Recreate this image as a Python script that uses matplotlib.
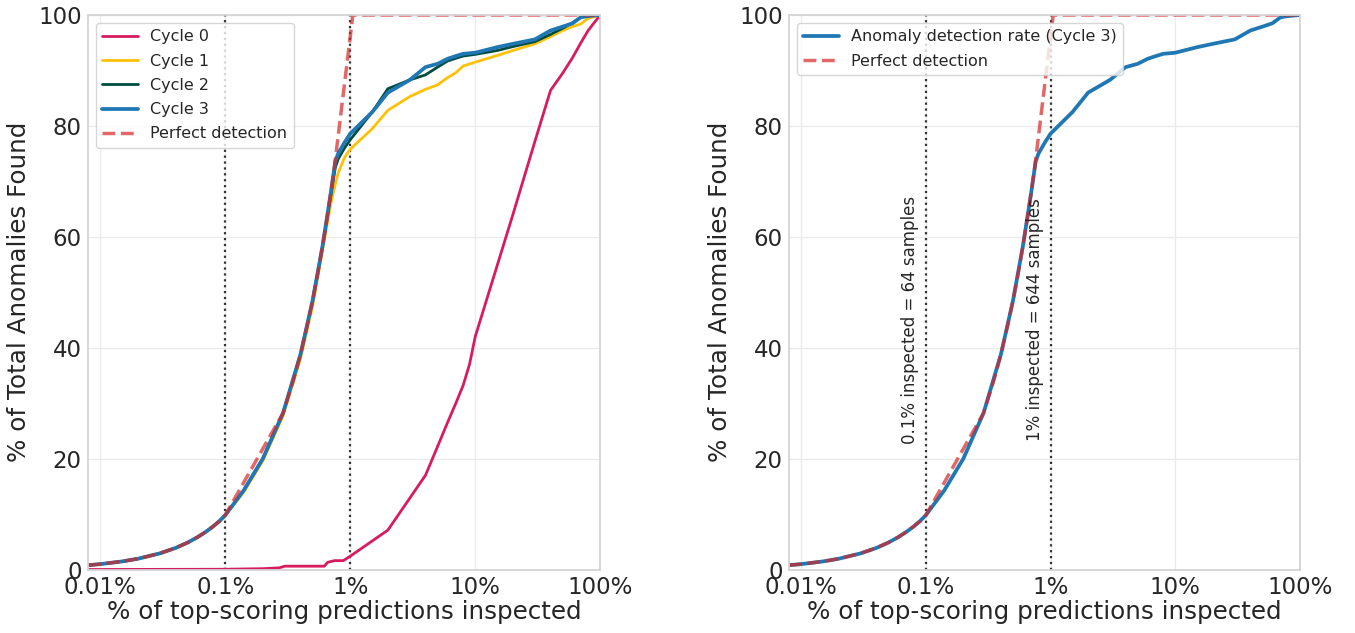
import matplotlib
matplotlib.use("Agg")
import matplotlib.pyplot as plt
import seaborn as sns
from matplotlib.ticker import FixedLocator, FuncFormatter

# ---------------- data (x in % of predictions inspected, y in % anomalies found)
x_cycles = [0.008, 0.01, 0.015, 0.02, 0.03, 0.04, 0.05, 0.06, 0.07, 0.08, 0.09,
            0.1, 0.14, 0.2, 0.29, 0.4, 0.5, 0.6, 0.7, 0.76, 0.8, 0.9, 1.0, 1.5,
            2, 3, 4, 5, 6, 7, 8, 10, 15, 20, 30, 40, 50, 60, 70, 80, 100]

cycle3 = [0.78, 0.97, 1.46, 1.94, 2.91, 3.88, 4.85, 5.83, 6.8, 7.77, 8.74,
          9.8, 14.2, 20.0, 28.2, 38.8, 48.5, 58.3, 68.0, 73.6, 75.0, 77.0, 78.6, 82.5,
          86.0, 88.3, 90.6, 91.2, 92.1, 92.6, 93.0, 93.2, 94.2, 94.8, 95.6, 97.2, 97.9, 98.5, 99.6, 99.8, 100]

cycle2 = [0.78, 0.97, 1.46, 1.94, 2.91, 3.88, 4.85, 5.83, 6.8, 7.77, 8.74,
          9.8, 14.2, 20.0, 28.2, 38.8, 48.5, 58.3, 67.5, 72.5, 74.0, 76.0, 77.5, 82.5,
          86.7, 88.3, 89.2, 90.6, 91.7, 92.2, 92.6, 92.9, 93.6, 94.3, 95.2, 96.5, 97.6, 98.6, 99.6, 99.9, 100]

cycle1 = [0.78, 0.97, 1.46, 1.94, 2.91, 3.88, 4.85, 5.83, 6.8, 7.77, 8.74,
          9.7, 13.9, 19.6, 27.7, 38.0, 47.5, 57.5, 66.0, 69.5, 71.5, 74.3, 75.8, 79.5,
          82.8, 85.3, 86.6, 87.4, 88.7, 89.6, 90.8, 91.5, 92.7, 93.6, 94.8, 96.1, 97.2, 97.9, 98.4, 99.4, 100]

x_cycle0 = [0.008, 0.1, 0.2, 0.27, 0.3, 0.62, 0.66, 0.75, 0.88, 1.0, 2.0, 4.0,
            5.0, 6.0, 7.0, 8.0, 9.0, 10, 20, 30, 40, 50, 60, 70, 80, 90, 100]
cycle0 = [0.0, 0.05, 0.15, 0.3, 0.6, 0.6, 1.3, 1.6, 1.6, 2.4, 7.1, 17.0,
          22.2, 26.5, 30.0, 33.2, 37.0, 42.0, 64.0, 77.2, 86.4, 89.5, 92.3, 95.0, 97.2, 98.7, 100]

x_perfect = [0.008, 0.01, 0.015, 0.02, 0.03, 0.04, 0.05, 0.06, 0.07, 0.08, 0.09,
             0.1, 0.29, 0.35, 0.4, 0.45, 0.5, 0.55, 0.6, 0.65, 0.74, 1.05, 100]
perfect = [0.78, 0.97, 1.46, 1.94, 2.91, 3.88, 4.85, 5.83, 6.8, 7.77, 8.74,
           9.8, 28.2, 34.0, 38.8, 43.7, 48.5, 53.4, 58.3, 63.1, 71.8, 100, 100]

x_ticks = [0.01, 0.1, 1, 10, 100]
x_tick_labels = ["0.01%", "0.1%", "1%", "10%", "100%"]
y_ticks = [0, 20, 40, 60, 80, 100]
marker_lines = [0.1, 1]
marker_texts = ["0.1% inspected = 64 samples", "1% inspected = 644 samples"]

cycle_names = ["Cycle 0", "Cycle 1", "Cycle 2", "Cycle 3"]
cycle_colors = ["#d81b60", "#ffc107", "#004d40", "#1f77b4"]

# ---------------- style
sns.set_style("whitegrid")
plt.rcParams["font.family"] = ["DejaVu Sans"]

fig = plt.figure(figsize=(13.55, 6.33), dpi=100)
ax1 = fig.add_axes([0.065, 0.1003, 0.378, 0.876])
ax2 = fig.add_axes([0.5823, 0.1003, 0.3771, 0.876])

def style_axis(ax):
    ax.set_xscale("log")
    ax.set_xlim(0.008, 100)
    ax.set_ylim(0, 100)
    ax.xaxis.set_major_locator(FixedLocator(x_ticks))
    ax.xaxis.set_major_formatter(FuncFormatter(lambda v, p: x_tick_labels[x_ticks.index(v)] if v in x_ticks else ""))
    ax.xaxis.set_minor_locator(FixedLocator([]))
    ax.set_yticks(y_ticks)
    ax.tick_params(axis="both", labelsize=16.5, colors=".15", pad=1)
    ax.set_xlabel("% of top-scoring predictions inspected", fontsize=17.7, color=".15", labelpad=1)
    ax.set_ylabel("% of Total Anomalies Found", fontsize=17.7, color=".15", labelpad=5)
    for s in ax.spines.values():
        s.set_color("#d4d4d4")
        s.set_linewidth(1.3)
    ax.grid(True, color="#ebebeb", linewidth=1.0)

# ---------------- left panel
cycle_x = [x_cycle0, x_cycles, x_cycles, x_cycles]
cycle_y = [cycle0, cycle1, cycle2, cycle3]
cycle_lw = [2.0, 2.0, 2.0, 2.7]
for xs, ys, name, c, lw in zip(cycle_x, cycle_y, cycle_names, cycle_colors, cycle_lw):
    ax1.plot(xs, ys, color=c, lw=lw, label=name)
ax1.plot(x_perfect, perfect, color="tab:red", alpha=0.7, ls="--", lw=2.5, label="Perfect detection")
for v in marker_lines:
    ax1.axvline(v, color="#333333", ls=":", lw=1.6, zorder=1)
style_axis(ax1)
ax1.legend(loc="upper left", fontsize=11.5, frameon=True, borderpad=0.4,
           handlelength=2.2, labelspacing=0.58)

# ---------------- right panel
ax2.plot(x_cycles, cycle3, color=cycle_colors[3], lw=2.7, label="Anomaly detection rate (Cycle 3)")
ax2.plot(x_perfect, perfect, color="tab:red", alpha=0.7, ls="--", lw=2.5, label="Perfect detection")
for v, t in zip(marker_lines, marker_texts):
    ax2.axvline(v, color="#333333", ls=":", lw=1.6, zorder=1)
    ax2.text(v * 0.88, 45, t, rotation=90, ha="right", va="center", fontsize=12, color=".15")
style_axis(ax2)
ax2.legend(loc="upper left", fontsize=11.5, frameon=True, borderpad=0.4,
           handlelength=2.2, labelspacing=0.58)

fig.savefig("out.png", dpi=100)
